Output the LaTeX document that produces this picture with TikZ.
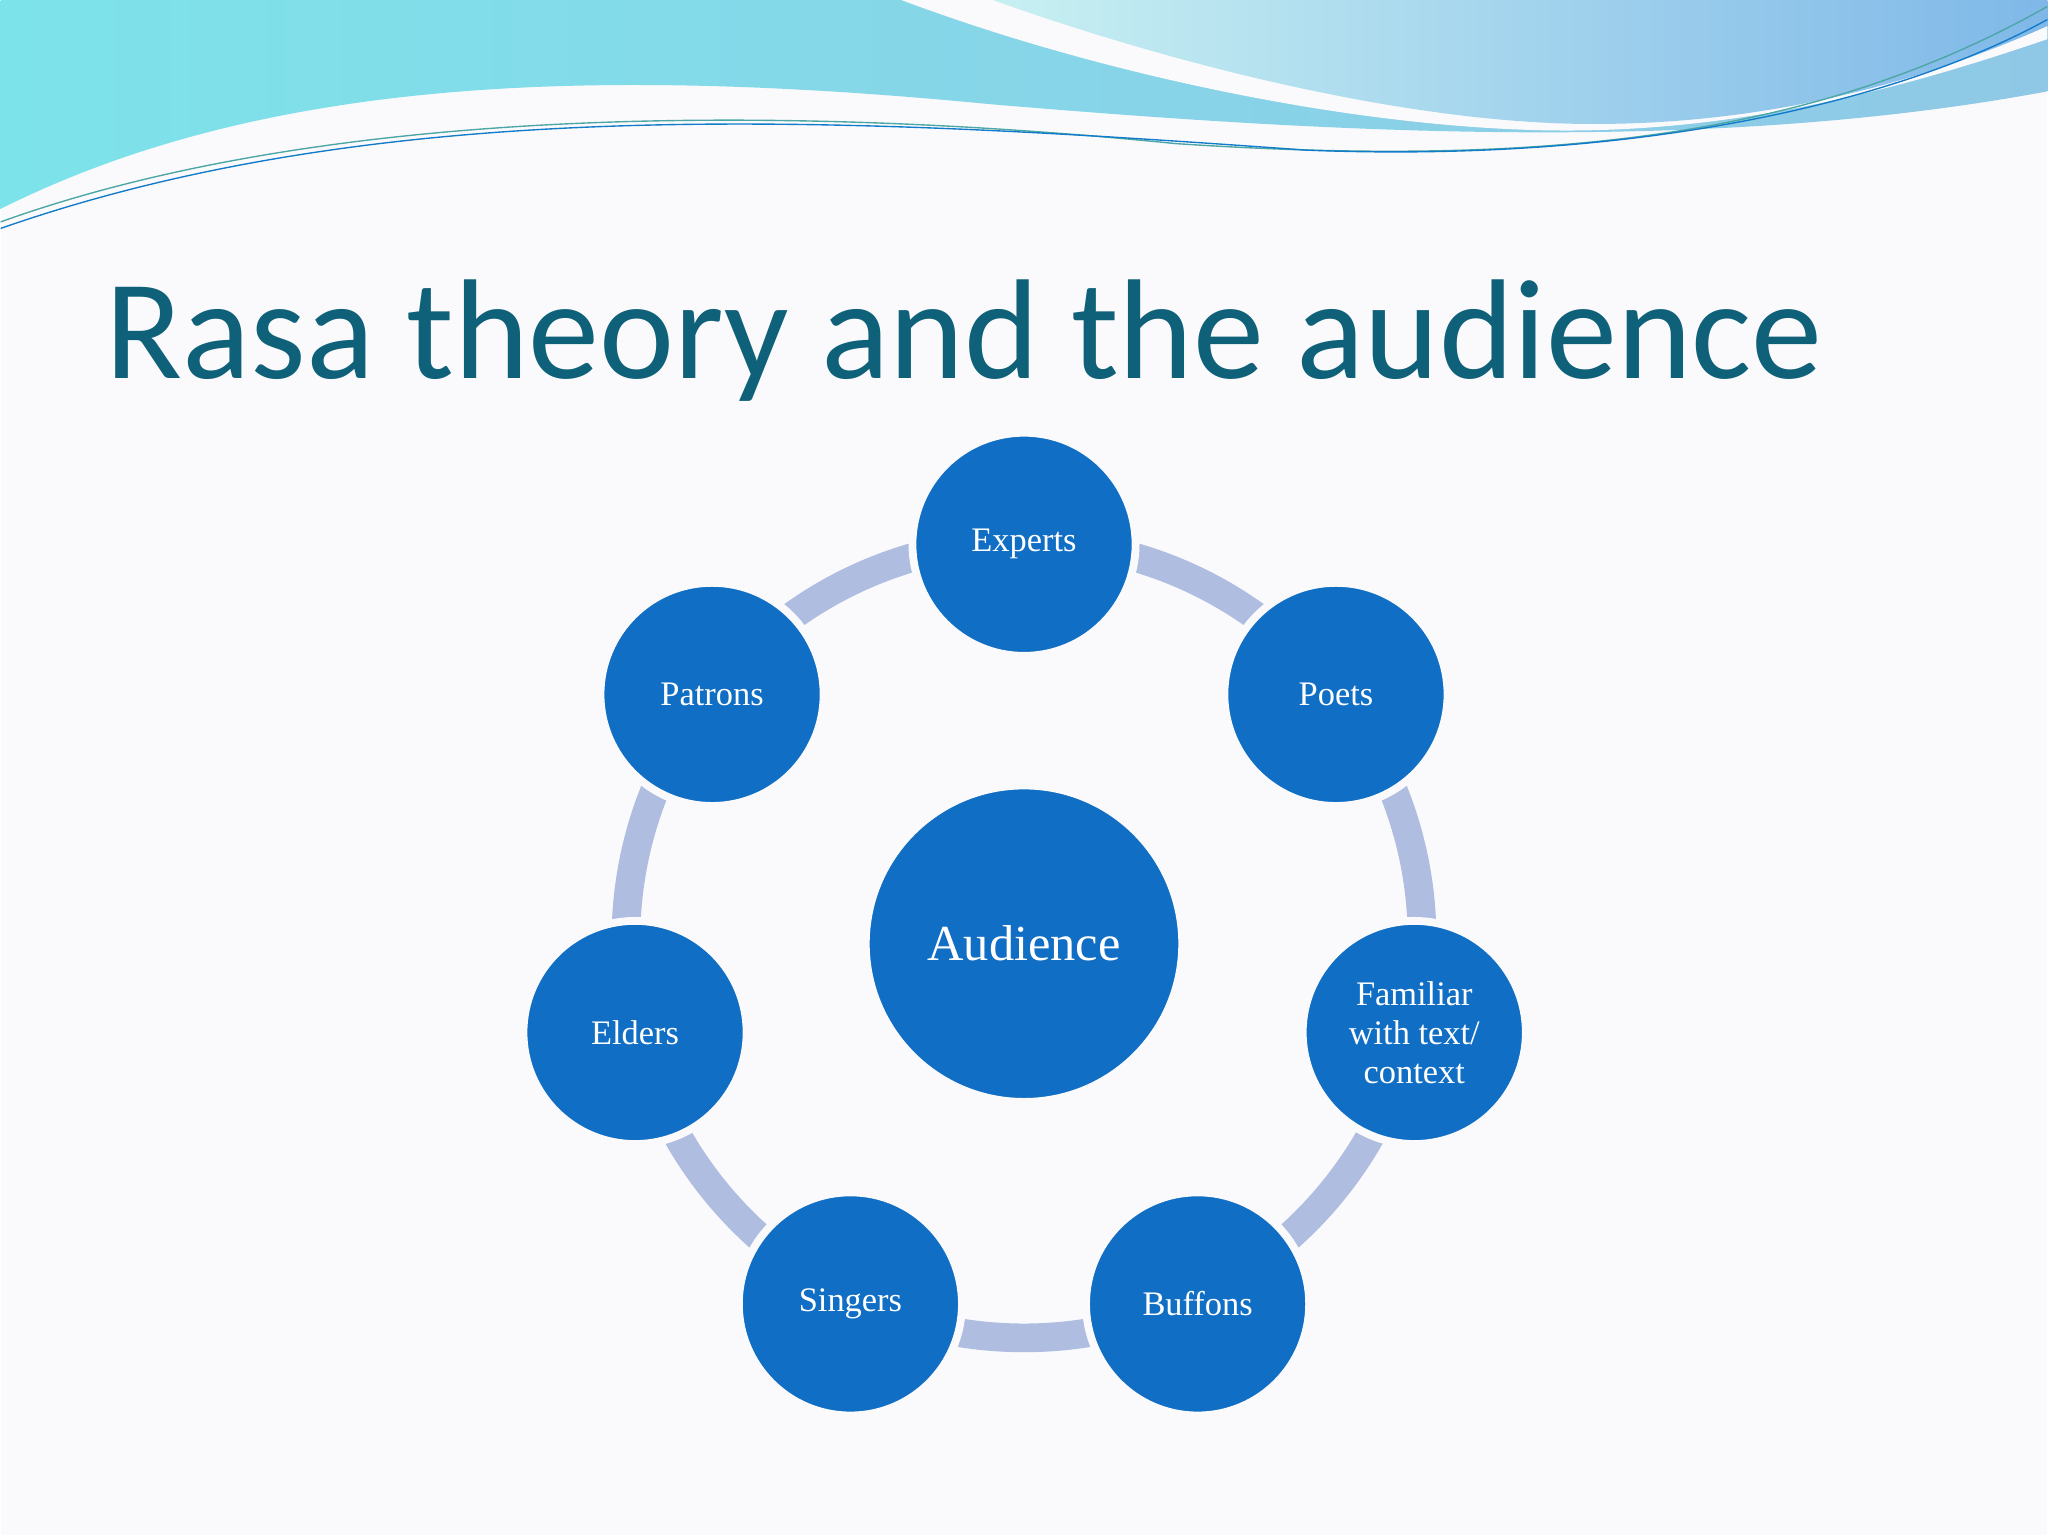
\documentclass[tikz,border=0pt]{standalone}
\usepackage{fontspec}
\setmainfont{Liberation Serif}
\newfontfamily\titlefont{Carlito}
\definecolor{nodeblue}{HTML}{106EC4}
\definecolor{ringblue}{HTML}{AEBDE0}
\definecolor{titleteal}{HTML}{0F6079}
\definecolor{bgwhite}{HTML}{FAFAFC}
\definecolor{waveL}{HTML}{7DE3EA}
\definecolor{waveR}{HTML}{8FC8E6}
\definecolor{waveL2}{HTML}{C8F0F2}
\definecolor{waveR2}{HTML}{7FB8E8}
\tikzset{
 member/.style={circle, fill=nodeblue, draw=bgwhite, line width=0.12cm, minimum size=3.42cm, inner sep=0pt, text=white, font=\fontsize{15}{18}\selectfont, align=center},
 hub/.style={circle, fill=nodeblue, draw=bgwhite, line width=0.12cm, minimum size=4.85cm, inner sep=0pt, text=white, font=\fontsize{22}{24}\selectfont}
}
\begin{document}
\begin{tikzpicture}[x=0.02cm,y=-0.02cm]
\fill[bgwhite] (0,0) rectangle (1568,1176);
% top waves
\shade[left color=waveL, right color=waveR]
 (0,0) -- (0,160) .. controls (200,60) and (450,50) .. (760,80) .. controls (1000,100) and (1300,120) .. (1568,70) -- (1568,0) -- cycle;
\fill[bgwhite] (690,0) .. controls (850,60) and (1050,100) .. (1200,100) .. controls (1350,100) and (1480,60) .. (1568,30) -- (1568,0) -- cycle;
\shade[left color=waveL2, right color=waveR2]
 (760,0) .. controls (900,50) and (1080,95) .. (1220,95) .. controls (1380,95) and (1500,50) .. (1568,20) -- (1568,0) -- cycle;
\draw[teal!70, line width=0.6pt] (0,170) .. controls (250,80) and (600,80) .. (900,110) .. controls (1200,130) and (1400,100) .. (1568,5);
\draw[cyan!60!blue, line width=0.6pt] (0,175) .. controls (300,70) and (650,90) .. (1000,115) .. controls (1250,125) and (1450,80) .. (1568,15);
% title
\node[anchor=base west, inner sep=0pt, text=titleteal, font=\titlefont\fontsize{62}{66}\selectfont] (title) at (80,290) {Rasa theory and the audience};
% ring
\coordinate (c) at (784,720);
\draw[ringblue, line width=0.44cm] (c) circle (305);
\node[hub] (aud) at (784,723) {Audience};
\node[member] (experts) at (784,417) {Experts};
\node[member] (poets) at (1023,532) {Poets};
\node[member] (fam) at (1083,791) {Familiar\\[-1pt]with text/\\[-1pt]context};
\node[member] (buff) at (917,999) {Buffons};
\node[member] (sing) at (651,999) {Singers};
\node[member] (eld) at (486,791) {Elders};
\node[member] (pat) at (545,532) {Patrons};
\end{tikzpicture}
\end{document}
